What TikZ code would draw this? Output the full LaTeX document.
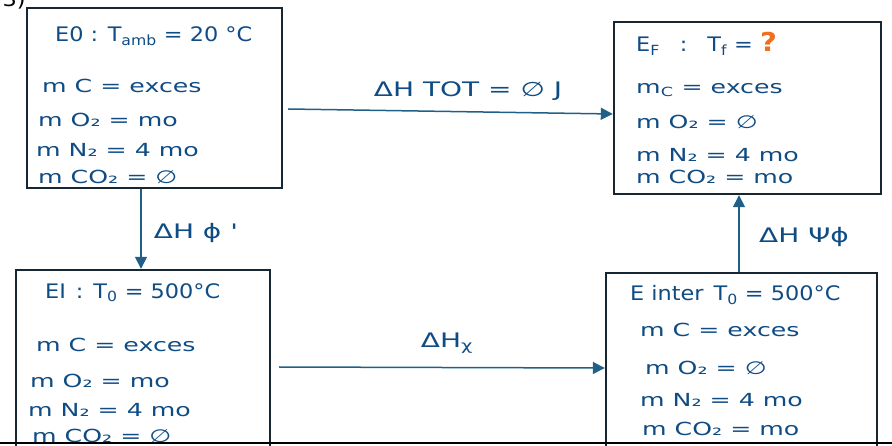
\documentclass[tikz,border=0pt]{standalone}
\usepackage{fontspec}
\usetikzlibrary{arrows.meta}
\newfontfamily\hand[FakeStretch=1.4]{DejaVu Sans}
\newfontfamily\handhead[FakeStretch=1.12]{DejaVu Sans}
\definecolor{ink}{RGB}{16,76,132}
\definecolor{frame}{RGB}{22,38,50}
\definecolor{flow}{RGB}{32,96,136}
\definecolor{alert}{RGB}{240,110,30}
\tikzset{
  x=1pt, y=-1pt,
  statebox/.style={draw=frame, line width=2.4pt, fill=white, inner sep=0pt},
  head/.style={anchor=west, text=ink, inner sep=0pt, font=\handhead\fontsize{20}{20}\selectfont},
  row/.style={anchor=west, text=ink, inner sep=0pt, font=\hand\fontsize{18}{18}\selectfont},
  lab/.style={text=ink, inner sep=0pt, font=\hand\fontsize{20}{20}\selectfont},
  flowarrow/.style={draw=flow, line width=1.5pt, -{Triangle[length=12pt,width=12pt]}},
}
\begin{document}
\begin{tikzpicture}
\useasboundingbox (0,0) rectangle (892,446);
\clip (0,0) rectangle (892,446);

% part number, cut by the top edge
\node[text=black, inner sep=0pt, font=\handhead\fontsize{20}{20}\selectfont] (part) at (14,0) {3)};

% the four states
\node[statebox, minimum width=255pt, minimum height=180pt] (A) at (154.5,98) {};
\node[statebox, minimum width=267pt, minimum height=172pt] (B) at (747.5,108) {};
\node[statebox, minimum width=254pt, minimum height=200pt] (C) at (143,370) {};
\node[statebox, minimum width=271pt, minimum height=197pt] (D) at (741.5,371.5) {};

% initial state E0
\node[head] (a0) at (55,36) {E0 : T\textsubscript{amb} = 20 °C};
\node[row] (a1) at (42,86) {m C = exces};
\node[row] (a2) at (38,120) {m O₂ = mo};
\node[row] (a3) at (36,150) {m N₂ = 4 mo};
\node[row] (a4) at (38,177) {m CO₂ = ∅};

% final state EF
\node[head] (b0) at (636,44) {E\textsubscript{F}\quad:\quad T\textsubscript{f} = {\color{alert}\bfseries\fontsize{26}{26}\selectfont ?}};
\node[row] (b1) at (636,90) {m\textsubscript{C} = exces};
\node[row] (b2) at (636,122) {m O₂ = ∅};
\node[row] (b3) at (636,155) {m N₂ = 4 mo};
\node[row] (b4) at (636,177) {m CO₂ = mo};

% intermediate state EI
\node[head] (c0) at (45,293) {EI\enspace:\enspace T\textsubscript{0} = 500°C};
\node[row] (c1) at (36,345) {m C = exces};
\node[row] (c2) at (30,381) {m O₂ = mo};
\node[row] (c3) at (28,410) {m N₂ = 4 mo};
\node[row] (c4) at (32,436) {m CO₂ = ∅};

% intermediate state E inter
\node[head] (d0) at (630,295) {E inter\enspace T\textsubscript{0} = 500°C};
\node[row] (d1) at (640,330) {m C = exces};
\node[row] (d2) at (645,368) {m O₂ = ∅};
\node[row] (d3) at (640,400) {m N₂ = 4 mo};
\node[row] (d4) at (642,429) {m CO₂ = mo};

% page edge line at the bottom
\coordinate (edgeL) at (0,443);
\coordinate (edgeR) at (892,443);
\draw[black, line width=2pt] (edgeL) -- (edgeR);

% enthalpy paths
\draw[flowarrow] ([xshift=5pt,yshift=-11pt]A.east) -- ([yshift=-6pt]B.west);
\draw[flowarrow] ([xshift=-13.5pt]A.south) -- ([xshift=-2pt]C.north);
\draw[flowarrow] ([xshift=8pt,yshift=3pt]C.east) -- ([yshift=3.5pt]D.west);
\draw[flowarrow] ([xshift=-2.5pt]D.north) -- ([xshift=-8.5pt]B.south);

\node[lab] (l1) at (468,91) {ΔH TOT = ∅ J};
\node[lab] (l2) at (196,233) {ΔH ϕ '};
\node[lab] (l3) at (447,343) {ΔH\textsubscript{χ}};
\node[lab] (l4) at (804,237) {ΔH Ψϕ};
\end{tikzpicture}
\end{document}
